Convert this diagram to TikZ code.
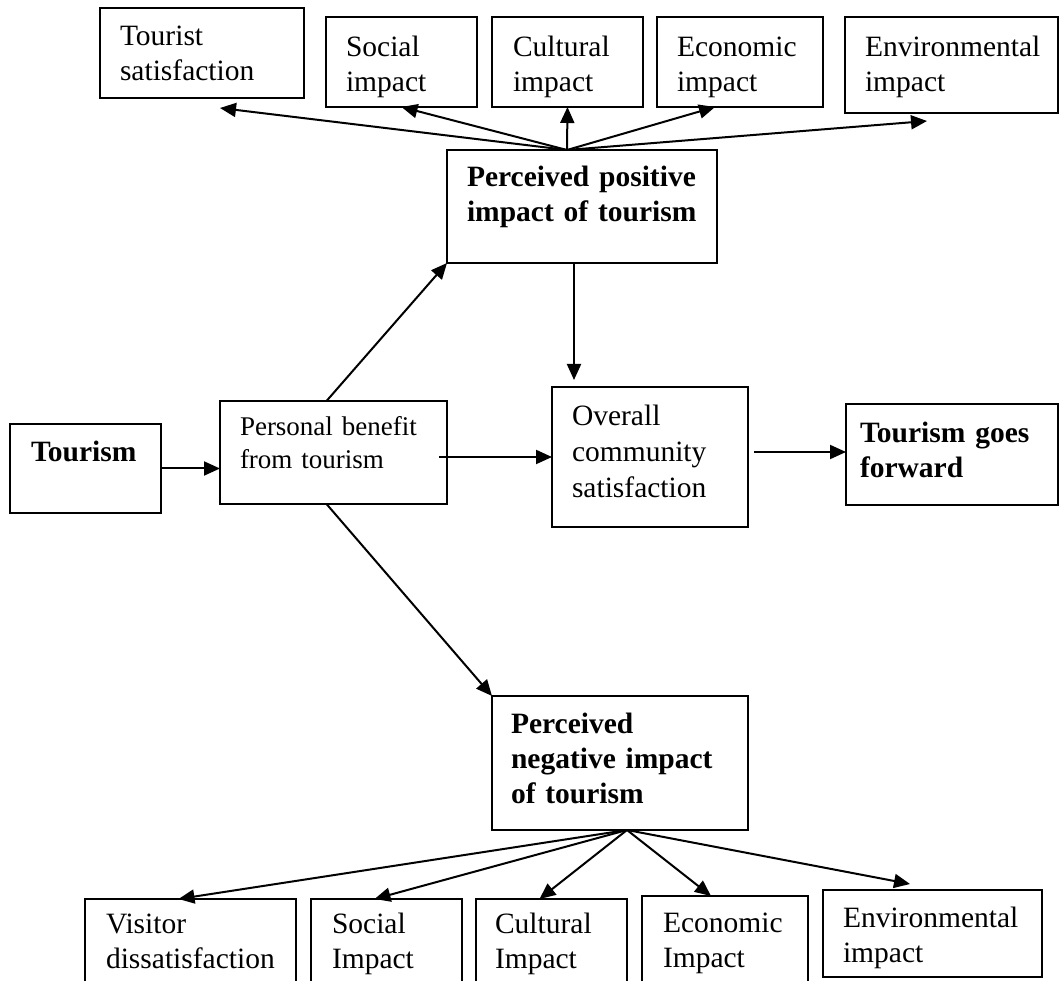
\documentclass[tikz,border=0pt]{standalone}
\usepackage{fontspec}
\setmainfont{Liberation Serif}
\usetikzlibrary{arrows.meta}
\hyphenpenalty=10000
\exhyphenpenalty=10000

\begin{document}
\begin{tikzpicture}[x=1pt,y=-1pt,
    tbox/.style={draw,line width=2pt,anchor=north west,outer sep=0pt,inner ysep=0pt,align=left,font=\fontsize{29.5}{35}\selectfont},
    dims/.style n args={4}{inner xsep=#1pt,text width=#2pt,text height=#3pt,text depth=#4pt},
    bf/.style={font=\fontsize{29.5}{35}\selectfont\bfseries},
    arr/.style={-{Triangle[length=16pt,width=14pt]},line width=2pt}]
\useasboundingbox (0,0) rectangle (1061,981);
\clip (0,0) rectangle (1061,981);

\node[tbox,dims={20}{164}{38}{52}] (ts) at (100,8) {Tourist\\satisfaction};
\node[tbox,dims={20}{111}{40}{50}] (si) at (326,17) {Social\\impact};
\node[tbox,dims={21}{109}{40}{50}] (ci) at (492,17) {Cultural\\impact};
\node[tbox,dims={20}{126}{40}{50}] (ei) at (657,17) {Economic\\impact};
\node[tbox,dims={20}{173}{40}{56}] (ev) at (845,17) {Environmental\\impact};
\node[tbox,bf,dims={20}{230}{37}{76}] (pp) at (447,150) {Perceived positive\\impact of tourism};

\node[tbox,bf,dims={21}{109}{38}{51}] (tm) at (10,424) {Tourism};
\node[tbox,font=\fontsize{27}{33}\selectfont,dims={20}{187}{35}{68}] (pb) at (220,401) {Personal benefit\\from tourism};
\node[tbox,font=\fontsize{29.5}{36}\selectfont,dims={20}{156}{39}{101}] (oc) at (552,387) {Overall\\community\\satisfaction};
\node[tbox,bf,dims={14}{184}{39}{62}] (fw) at (846,404) {Tourism goes\\forward};

\node[tbox,bf,dims={19}{218}{37}{97}] (np) at (492,696) {Perceived\\negative impact\\of tourism};
\node[tbox,dims={21}{169}{34}{66}] (vd) at (85,899) {Visitor\\dissatisfaction};
\node[tbox,dims={21}{109}{34}{66}] (si2) at (311,899) {Social\\Impact};
\node[tbox,dims={19}{113}{34}{66}] (ci2) at (476,899) {Cultural\\Impact};
\node[tbox,dims={21}{124}{36}{66}] (ei2) at (642,896) {Economic\\Impact};
\node[tbox,dims={20}{179}{37}{50}] (ev2) at (823,890) {Environmental\\impact};

\coordinate (ts-in) at (220,108);
\coordinate (ev-in) at (927,121);
\coordinate (pb-out) at (439,457);
\coordinate (oc-in) at (574,380);
\coordinate (oc-out) at (754,452);
\coordinate (ev2-in) at (910,884);

\draw[arr] ([xshift=-15pt]pp.north) to (ts-in);
\draw[arr] ([xshift=-15pt]pp.north) to (si.south);
\draw[arr] ([xshift=-15pt]pp.north) to (ci.south);
\draw[arr] ([xshift=-15pt]pp.north) to ([xshift=-25pt]ei.south);
\draw[arr] ([xshift=-15pt]pp.north) to (ev-in);

\draw[arr] (tm.east) to (tm.east -| pb.west);
\draw[arr] ([xshift=-7pt]pb.north) to (pp.south west);
\draw[arr] ([xshift=-7pt]pb.south) to (np.north west);
\draw[arr] (pb-out) to (pb-out -| oc.west);
\draw[arr] ([xshift=-8pt]pp.south) to (oc-in);
\draw[arr] (oc-out) to (oc-out -| fw.west);

\draw[arr] ([xshift=7pt]np.south) to ([xshift=-12pt]vd.north);
\draw[arr] ([xshift=7pt]np.south) to ([xshift=-12pt]si2.north);
\draw[arr] ([xshift=7pt]np.south) to ([xshift=-12pt]ci2.north);
\draw[arr] ([xshift=7pt]np.south) to ([xshift=-14pt]ei2.north);
\draw[arr] ([xshift=7pt]np.south) to (ev2-in);
\end{tikzpicture}
\end{document}
